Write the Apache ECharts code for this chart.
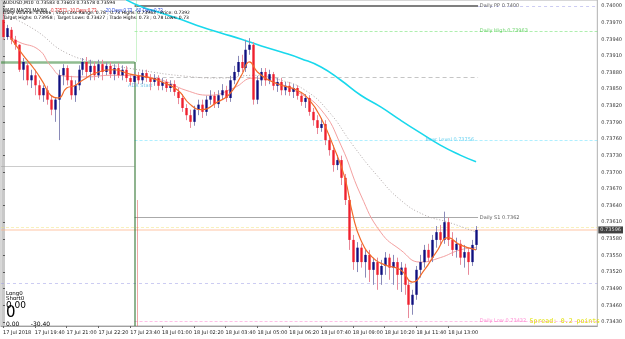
<!DOCTYPE html>
<html><head><meta charset="utf-8">
<script src="https://cdn.jsdelivr.net/npm/echarts@6/dist/echarts.min.js"></script>
<style>html,body{margin:0;padding:0;background:#fff}#c{width:625px;height:339px}</style>
</head><body><div id="c"></div>
<script>
// ---------- DATA ----------
const opens=[0.73975,0.73944,0.73957,0.73939,0.73930,0.73885,0.73893,0.73866,0.73875,0.73857,0.73839,0.73848,0.73831,0.73813,0.73831,0.73875,0.73888,0.73866,0.73839,0.73857,
0.73885,0.73899,0.73881,0.73892,0.73875,0.73895,0.73881,0.73892,0.73877,0.73888,0.73875,0.73885,0.73870,0.73863,0.73874,0.73866,0.73879,0.73870,0.73863,0.73870,
0.73856,0.73863,0.73852,0.73859,0.73845,0.73834,0.73816,0.73803,0.73791,0.73813,0.73822,0.73809,0.73831,0.73838,0.73823,0.73839,0.73848,0.73834,0.73866,0.73881,
0.73899,0.73888,0.73921,0.73930,0.73831,0.73866,0.73881,0.73866,0.73877,0.73856,0.73863,0.73848,0.73856,0.73845,0.73852,0.73838,0.73827,0.73834,0.73809,0.73794,
0.73780,0.73787,0.73758,0.73740,0.73713,0.73722,0.73690,0.73650,0.73578,0.73538,0.73564,0.73538,0.73551,0.73524,0.73538,0.73515,0.73531,0.73546,0.73528,0.73538,
0.73515,0.73528,0.73497,0.73461,0.73479,0.73524,0.73538,0.73560,0.73546,0.73578,0.73592,0.73578,0.73610,0.73578,0.73560,0.73571,0.73546,0.73556,0.73538,0.73569];
const closes=[0.73944,0.73960,0.73939,0.73930,0.73885,0.73899,0.73866,0.73875,0.73857,0.73839,0.73852,0.73831,0.73813,0.73831,0.73875,0.73888,0.73866,0.73839,0.73857,0.73885,
0.73899,0.73881,0.73892,0.73875,0.73895,0.73881,0.73892,0.73877,0.73888,0.73875,0.73885,0.73870,0.73863,0.73874,0.73866,0.73879,0.73870,0.73863,0.73870,0.73856,
0.73863,0.73852,0.73859,0.73845,0.73834,0.73816,0.73803,0.73791,0.73813,0.73822,0.73809,0.73831,0.73838,0.73823,0.73839,0.73848,0.73834,0.73866,0.73881,0.73899,
0.73888,0.73921,0.73930,0.73831,0.73866,0.73881,0.73866,0.73877,0.73856,0.73863,0.73848,0.73856,0.73845,0.73852,0.73838,0.73827,0.73834,0.73809,0.73794,0.73780,
0.73787,0.73758,0.73740,0.73713,0.73722,0.73690,0.73650,0.73578,0.73538,0.73564,0.73538,0.73551,0.73524,0.73538,0.73515,0.73531,0.73546,0.73528,0.73538,0.73515,
0.73528,0.73497,0.73461,0.73479,0.73524,0.73538,0.73560,0.73546,0.73578,0.73592,0.73578,0.73610,0.73578,0.73560,0.73571,0.73546,0.73556,0.73538,0.73569,0.73596];
const highs=[0.73989,0.73966,0.73962,0.73946,0.73931,0.73906,0.73899,0.73885,0.73885,0.73866,0.73857,0.73856,0.73839,0.73834,0.73885,0.73895,0.73893,0.73874,0.73866,0.73893,
0.73906,0.73908,0.73903,0.73899,0.73903,0.73903,0.73899,0.73899,0.73895,0.73897,0.73893,0.73892,0.73877,0.73881,0.73881,0.73885,0.73885,0.73877,0.73877,0.73875,
0.73870,0.73868,0.73866,0.73866,0.73852,0.73841,0.73823,0.73813,0.73820,0.73831,0.73831,0.73838,0.73848,0.73845,0.73848,0.73859,0.73856,0.73874,0.73892,0.73910,
0.73912,0.73939,0.73942,0.73935,0.73874,0.73888,0.73888,0.73885,0.73881,0.73870,0.73870,0.73863,0.73863,0.73859,0.73857,0.73845,0.73841,0.73839,0.73816,0.73803,
0.73798,0.73794,0.73767,0.73749,0.73731,0.73730,0.73697,0.73657,0.73587,0.73574,0.73571,0.73560,0.73560,0.73546,0.73546,0.73542,0.73556,0.73553,0.73551,0.73546,
0.73538,0.73535,0.73506,0.73488,0.73531,0.73551,0.73569,0.73571,0.73587,0.73603,0.73605,0.73629,0.73618,0.73592,0.73582,0.73578,0.73569,0.73564,0.73578,0.73603];
const lows=[0.73939,0.73939,0.73931,0.73921,0.73881,0.73866,0.73857,0.73852,0.73839,0.73831,0.73827,0.73822,0.73803,0.73791,0.73758,0.73857,0.73857,0.73831,0.73827,0.73848,
0.73875,0.73870,0.73866,0.73866,0.73870,0.73866,0.73875,0.73870,0.73866,0.73870,0.73866,0.73863,0.73857,0.73856,0.73859,0.73859,0.73863,0.73848,0.73856,0.73848,
0.73848,0.73845,0.73845,0.73838,0.73823,0.73809,0.73794,0.73780,0.73784,0.73803,0.73798,0.73802,0.73822,0.73816,0.73816,0.73831,0.73827,0.73827,0.73859,0.73874,
0.73881,0.73881,0.73912,0.73822,0.73823,0.73856,0.73856,0.73859,0.73848,0.73845,0.73839,0.73839,0.73838,0.73834,0.73831,0.73820,0.73816,0.73802,0.73784,0.73769,
0.73773,0.73749,0.73730,0.73701,0.73704,0.73677,0.73641,0.73560,0.73524,0.73520,0.73528,0.73510,0.73502,0.73497,0.73488,0.73497,0.73515,0.73506,0.73497,0.73488,
0.73484,0.73479,0.73437,0.73443,0.73470,0.73510,0.73528,0.73538,0.73538,0.73564,0.73569,0.73571,0.73567,0.73549,0.73546,0.73533,0.73528,0.73515,0.73531,0.73560];

const xLabels=['17 Jul 2018','17 Jul 19:40','17 Jul 21:00','17 Jul 22:20','17 Jul 23:40','18 Jul 01:00','18 Jul 02:20','18 Jul 03:40','18 Jul 05:00','18 Jul 06:20','18 Jul 07:40','18 Jul 09:00','18 Jul 10:20','18 Jul 11:40','18 Jul 13:00'];
const barsPerLabel=8;
const priceTicks=[0.74000,0.73970,0.73940,0.73910,0.73880,0.73850,0.73820,0.73790,0.73760,0.73730,0.73700,0.73670,0.73640,0.73610,0.73580,0.73550,0.73520,0.73490,0.73460,0.73430];

// moving averages read at sampled bars: [barIndex, price]
const maFast=[[2,0.73942],[5,0.73912],[8,0.73885],[10,0.73863],[12,0.73839],[14,0.73834],[16,0.73852],[18,0.73856],[20,0.73866],[24,0.73881],[28,0.73885],[32,0.73877],[36,0.73872],[40,0.73863],[44,0.73848],[47,0.73823],[50,0.73813],[54,0.73827],[57,0.73841],[60,0.73875],[62,0.73899],[64,0.73881],[67,0.73866],[70,0.73857],[74,0.73848],[77,0.73831],[80,0.73798],[83,0.73749],[86,0.73690],[88,0.73623],[90,0.73578],[93,0.73546],[96,0.73533],[100,0.73524],[103,0.73502],[106,0.73524],[109,0.73556],[112,0.73582],[115,0.73569],[119,0.73560]];
const maMid=[[1,0.73948],[4,0.73935],[9,0.73921],[12,0.73892],[15,0.73874],[21,0.73872],[27,0.73875],[33,0.73874],[40,0.73866],[46,0.73848],[52,0.73839],[58,0.73852],[63,0.73870],[68,0.73863],[74,0.73845],[80,0.73813],[85,0.73749],[90,0.73659],[95,0.73592],[100,0.73560],[105,0.73538],[110,0.73546],[115,0.73560],[119,0.73564]];
const maSlow=[[0,0.73987],[8,0.73957],[16,0.73915],[25,0.73897],[34,0.73885],[45,0.73874],[55,0.73870],[63,0.73875],[70,0.73866],[76,0.73848],[82,0.73809],[88,0.73749],[94,0.73695],[100,0.73650],[106,0.73623],[112,0.73610],[119,0.73592]];
const maLong=[[31,0.74011],[35,0.73998],[40,0.73987],[45,0.73975],[50,0.73962],[55,0.73951],[60,0.73940],[65,0.73928],[70,0.73917],[75,0.73905],[80,0.73890],[85,0.73866],[90,0.73839],[95,0.73818],[100,0.73794],[105,0.73771],[110,0.73749],[115,0.73731],[119,0.73719]];

// horizontal levels
const levelNames=['Daily PP','Daily High','Mid','Daily Open Level','Prev','Daily S1','Ask','Bid','Lower','Daily Low','Session'];
const levelPrices=[0.74000,0.73955,0.73872,0.73758,0.73710,0.73618,0.73600,0.73596,0.73500,0.73432,0.73899];
const levelLabelTexts=['Daily PP 0.7400','Daily High 0.73963','','Bear Level 0.73756','','Daily S1 0.7362','','','','Daily Low 0.73432',''];
const bidPrice=0.73596;

// ---------- CHART ----------
const X0=-0.5, X1=149.5, DAY=33.1, LAST=119.5;
const segStyle=[
 {x1:DAY,x2:LAST,color:'#000000',w:2,type:'solid',extra:{x1:LAST,x2:X1,color:'#9a9ae6',w:1,type:[3,3]}},
 {x1:DAY,x2:X1,color:'#5ee05e',w:1,type:[3,2]},
 {x1:DAY,x2:LAST,color:'#8c8c8c',w:1,type:[4,3]},
 {x1:DAY,x2:X1,color:'#5fe0ff',w:1,type:[3,2]},
 {x1:X0,x2:DAY,color:'#9a9a9a',w:1,type:'solid'},
 {x1:DAY,x2:LAST,color:'#555555',w:1,type:'solid'},
 {x1:X0,x2:X1,color:'#f2e27a',w:1,type:[3,2]},
 {x1:X0,x2:X1,color:'#ffb489',w:1.5,type:'solid'},
 {x1:X0,x2:X1,color:'#9a9ae6',w:1,type:[3,3]},
 {x1:DAY,x2:X1,color:'#ff80d0',w:1,type:[3,2]},
 {x1:X0,x2:DAY,color:'#1f7a1f',w:2.5,type:'solid'}
];
const labelColors=['#333','#4cc94c','','#49c8ee','','#333','','','','#ff70c8',''];

const segData=[];
levelPrices.forEach((p,k)=>{
  const s=segStyle[k];
  segData.push({coords:[[s.x1,p],[s.x2,p]],lineStyle:{color:s.color,width:s.w,type:s.type}});
  if(s.extra){const e=s.extra;segData.push({coords:[[e.x1,p],[e.x2,p]],lineStyle:{color:e.color,width:e.w,type:e.type}});}
});
const yMin=0.734227, yMax=0.740108;
segData.push({coords:[[DAY,levelPrices[10]],[DAY,yMin]],lineStyle:{color:'#1f6a1f',width:2}});
segData.push({coords:[[DAY+0.5,yMax],[DAY+0.5,levelPrices[10]]],lineStyle:{color:'#9be89b',width:1}});
segData.push({coords:[[DAY+0.6,0.73650],[DAY+0.6,yMin]],lineStyle:{color:'#e05050',width:1}});

const candleData=opens.map((o,i)=>[i,o,closes[i],highs[i],lows[i]]);
const labelPts=[];
levelLabelTexts.forEach((t,k)=>{ if(t) labelPts.push({value:[k===3?106:LAST+0.2,levelPrices[k]],label:{formatter:t,color:labelColors[k]}}); });

const chart=echarts.init(document.getElementById('c'),null,{renderer:'canvas'});
const F='"DejaVu Sans", sans-serif';
chart.setOption({
 animation:false,
 backgroundColor:'#ffffff',
 grid:{left:0,top:0,width:603,height:326,show:true,borderColor:'#b0b0b0',borderWidth:1},
 xAxis:{type:'value',min:X0,max:X1,
   axisLine:{show:true,lineStyle:{color:'#a0a0a0'}},
   axisTick:{show:true,length:2,customValues:xLabels.map((_,k)=>k*barsPerLabel),lineStyle:{color:'#666'}},
   splitLine:{show:false},
   axisLabel:{customValues:xLabels.map((_,k)=>k*barsPerLabel),formatter:v=>xLabels[Math.round(v/barsPerLabel)]||'',
     align:'left',margin:4,fontSize:5,color:'#222',fontFamily:F}},
 yAxis:{type:'value',position:'right',min:yMin,max:yMax,scale:true,
   axisLine:{show:true,lineStyle:{color:'#c8c8c8',width:3}},
   axisTick:{show:true,length:2,customValues:priceTicks,lineStyle:{color:'#555'}},
   splitLine:{show:false},
   axisLabel:{customValues:priceTicks,formatter:v=>v.toFixed(5),fontSize:5,color:'#333',margin:4,fontFamily:F}},
 series:[
  {type:'lines',coordinateSystem:'cartesian2d',polyline:false,silent:true,data:segData,z:1},
  {type:'line',data:maSlow,showSymbol:false,smooth:true,lineStyle:{color:'#b0a8a8',width:1,type:[1,2]},z:2},
  {type:'line',data:maMid,showSymbol:false,smooth:true,lineStyle:{color:'#f4a0a0',width:1},z:2},
  {type:'line',data:maLong,showSymbol:false,smooth:true,lineStyle:{color:'#19d8ec',width:1.6},z:2},
  {type:'custom',data:candleData,encode:{x:0,y:[1,2,3,4]},z:3,
   renderItem:(params,api)=>{
     const x=api.value(0),o=api.value(1),c=api.value(2),h=api.value(3),l=api.value(4);
     const ph=api.coord([x,h]),pl=api.coord([x,l]),po=api.coord([x,o]),pc=api.coord([x,c]);
     const w=Math.max(2,api.size([1,0])[0]*0.6);
     const cx=Math.round(ph[0])+0.5;
     const up=c>=o;
     return {type:'group',children:[
      {type:'line',shape:{x1:cx,y1:ph[1],x2:cx,y2:pl[1]},style:{stroke:up?'#8a8ab8':'#e88a9a',lineWidth:1}},
      {type:'rect',shape:{x:cx-w/2,y:Math.min(po[1],pc[1]),width:w,height:Math.max(1,Math.abs(po[1]-pc[1]))},style:{fill:up?'#101080':'#f0202e'}}
     ]};
   }},
  {type:'line',data:maFast,showSymbol:false,smooth:true,lineStyle:{color:'#f26a2a',width:1.2},z:4},
  {type:'scatter',data:labelPts,symbolSize:0,z:5,silent:true,
   label:{show:true,position:'right',distance:1,fontSize:5,fontFamily:F}},
  {type:'scatter',data:[[X1,bidPrice]],symbolSize:0,z:6,silent:true,
   label:{show:true,position:'right',distance:1,formatter:p=>p.value[1].toFixed(5),backgroundColor:'#111',color:'#fff',fontSize:5,padding:[1,2],fontFamily:F}}
 ],
 graphic:[
  {type:'text',left:3,top:0,z:10,style:{text:'AUDUSD,M10  0.73583 0.73603 0.73578 0.73594',fontSize:4.5,fill:'#000',fontFamily:F}},
  {type:'text',left:3,top:5,z:10,style:{rich:{a:{fill:'#000',fontSize:4.5},r:{fill:'#e03030',fontSize:4.5},b:{fill:'#3050e0',fontSize:4.5}},text:'{a|MA(5) MA(20) MA(60)} {r|0.73571 -10 Days:0.73}  {b|-20 Days:0.73  -60 Days:0.73}',fontFamily:F}},
  {type:'text',left:3,top:10,z:10,style:{text:'Daily Volume: 0.0006 ; Stop Loss Range: 0.78 ; 0.73 Highs: 0.73963 ; Price: 0.7392',fontSize:4.5,fill:'#000',fontFamily:F}},
  {type:'text',left:3,top:15,z:10,style:{text:'Target Highs: 0.73958 ; Target Lows: 0.73427 ; Trade Highs: 0.73 ; 0.78 Lows: 0.73',fontSize:4.5,fill:'#000',fontFamily:F}},
  {type:'text',left:128,top:83,style:{text:'ADX Start',fontSize:5,fill:'#7ac8e8',fontFamily:F}},
  {type:'text',left:6,top:291,style:{text:'Long0',fontSize:5.5,fill:'#000',fontFamily:F}},
  {type:'text',left:6,top:296,style:{text:'Short0',fontSize:5.5,fill:'#000',fontFamily:F}},
  {type:'text',left:6,top:301,style:{text:'0.00',fontSize:9,fill:'#000',fontFamily:F}},
  {type:'text',left:6,top:306,style:{text:'0',fontSize:15,fill:'#000',fontFamily:F}},
  {type:'text',left:6,top:321,style:{text:'0.00      -30.40',fontSize:6,fill:'#000',fontFamily:F}},
  {type:'text',right:25,top:318,style:{text:'Spread: 0.2 points',fontSize:6.5,fill:'#e0e000',fontFamily:'"DejaVu Sans Mono", monospace'}}
 ]
});
</script></body></html>
